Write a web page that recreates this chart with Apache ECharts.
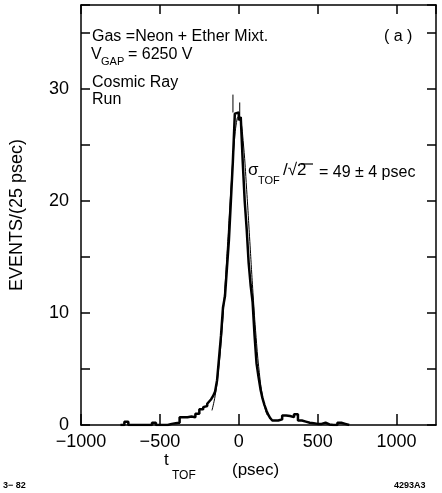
<!DOCTYPE html>
<html>
<head>
<meta charset="utf-8">
<script src="https://cdn.jsdelivr.net/npm/echarts@6/dist/echarts.min.js"></script>
<style>
html,body{margin:0;padding:0;background:#fff;}
#chart{width:442px;height:493px;}
</style>
</head>
<body>
<div id="chart"></div>
<script>
// ---- data ----
// histogram bin left edges (psec) and contents (events)
const binEdges = [-750,-725,-700,-675,-650,-625,-600,-575,-550,-525,-500,-475,-450,-425,-400,-375,-350,-325,-300,-275,-250,
  -225,-212.5,-200,-187.5,-175,-162.5,-150,-137.5,-125,-112.5,-100,-87.5,-75,-62.5,-50,-37.5,-25,-12.5,
  0,12.5,25,37.5,50,62.5,75,87.5,100,112.5,125,137.5,150,162.5,175,187.5,200,212.5,
  225,250,275,300,325,350,375,400,425,450,475,500,525,550,575,600,625,650,675,700];
const counts = [0,0.3,0,0,0,0,0,0,0.2,0,0,0,0.1,0.15,0.2,0.7,0.7,0.75,0.7,1.0,1.4,
  1.6,1.7,1.9,2.1,2.3,2.6,3.0,4.0,6.0,8.0,10.5,11.5,14.0,16.5,20.0,23.5,27.8,27.9,
  27.2,27.5,23.5,20.0,17.5,14.5,12.5,11.0,8.0,5.5,4.3,3.2,2.4,1.8,1.3,0.9,0.6,0.4,
  0.4,0.5,0.85,0.8,0.7,0.95,0.4,0.3,0.2,0.15,0.1,0.1,0.2,0.05,0,0,0.2,0.1,0];
const fitX = [-170,-150,-130,-110,-90,-70,-50,-30,-10,0,10,30,50,70,90,110,130,150,170,180];
const fitY = [1.3,2.6,4.7,7.8,11.8,16.4,21.0,25.0,27.4,27.5,27.4,25.0,21.0,16.4,11.8,7.8,4.7,2.6,1.3,0.9];
const spikes = [[-37,27.9,29.5],[6,27.5,28.8]]; // [x, low, high]
const xTickValues = [-1000,-500,0,500,1000];
const xTickLabels = ['\u22121000','\u2212500','0','500','1000'];
const yTickValues = [0,10,20,30];
const yTickLabels = ['0','10','20','30'];

// ---- build ----
const histData = binEdges.slice(0, counts.length).map((x,i)=>[x,counts[i]]);
histData.push([binEdges[binEdges.length-1], 0]);
const fitData = fitX.map((x,i)=>[x,fitY[i]]);

const FONT = 'Liberation Sans';
const chart = echarts.init(document.getElementById('chart'), null, {renderer:'canvas'});

const axLine = {show:true, onZero:false, lineStyle:{color:'#000', width:1.5}};
const series = [
  {type:'line', data:histData, step:'end', showSymbol:false, symbol:'none',
   lineStyle:{color:'#000', width:2.5}, xAxisIndex:0, yAxisIndex:0, z:3, animation:false},
  {type:'line', data:fitData, smooth:true, showSymbol:false, symbol:'none',
   lineStyle:{color:'#000', width:1}, xAxisIndex:0, yAxisIndex:0, z:4, animation:false}
];
spikes.forEach(s=>{
  series.push({type:'line', data:[[s[0],s[1]],[s[0],s[2]]], showSymbol:false, symbol:'none',
    lineStyle:{color:'#000', width:1}, xAxisIndex:0, yAxisIndex:0, animation:false});
});

const option = {
  backgroundColor:'#fff',
  animation:false,
  grid:{left:72, right:6, top:5, bottom:68, containLabel:false},
  xAxis:[
    {type:'value', min:-1000, max:1250, interval:500, position:'bottom',
     axisLine:axLine, splitLine:{show:false},
     axisTick:{show:true, inside:true, length:11, lineStyle:{color:'#000', width:1.5}},
     axisLabel:{color:'#000', fontFamily:FONT, fontSize:18, margin:8, showMaxLabel:false,
       formatter:v=>{const i=xTickValues.indexOf(v); return i>=0?xTickLabels[i]:'';}}},
    {type:'value', min:-1000, max:1250, interval:500, position:'top',
     axisLine:axLine, splitLine:{show:false},
     axisTick:{show:true, inside:true, length:9, lineStyle:{color:'#000', width:1.5}},
     axisLabel:{show:false}}
  ],
  yAxis:[
    {type:'value', min:0, max:37.5, interval:5, position:'left',
     axisLine:axLine, splitLine:{show:false},
     axisTick:{show:true, inside:true, length:9, lineStyle:{color:'#000', width:1.5}},
     axisLabel:{color:'#000', fontFamily:FONT, fontSize:18, margin:12,
       formatter:v=>{const i=yTickValues.indexOf(v); return i>=0?yTickLabels[i]:'';}},
     name:'EVENTS/(25 psec)', nameLocation:'middle', nameGap:55, nameRotate:90,
     nameTextStyle:{color:'#000', fontFamily:FONT, fontSize:18}},
    {type:'value', min:0, max:37.5, interval:5, position:'right',
     axisLine:axLine, splitLine:{show:false},
     axisTick:{show:true, inside:true, length:9, lineStyle:{color:'#000', width:1.5}},
     axisLabel:{show:false}}
  ],
  series:series,
  graphic:[
    {type:'text', left:92, top:29, style:{text:'Gas =Neon + Ether Mixt.', font:'16px '+FONT, fill:'#000'}},
    {type:'text', left:384, top:29, style:{text:'( a )', font:'16px '+FONT, fill:'#000'}},
    {type:'text', left:91, top:47, style:{text:'V', font:'16px '+FONT, fill:'#000'}},
    {type:'text', left:101, top:56, style:{text:'GAP', font:'11px '+FONT, fill:'#000'}},
    {type:'text', left:128, top:47, style:{text:'= 6250 V', font:'16px '+FONT, fill:'#000'}},
    {type:'text', left:92, top:75, style:{text:'Cosmic Ray', font:'16px '+FONT, fill:'#000'}},
    {type:'text', left:92, top:92, style:{text:'Run', font:'16px '+FONT, fill:'#000'}},
    {type:'text', left:248, top:162, style:{text:'\u03C3', font:'17px '+FONT, fill:'#000'}},
    {type:'text', left:258, top:175, style:{text:'TOF', font:'11px '+FONT, fill:'#000'}},
    {type:'text', left:283, top:162, style:{text:'/\u221A2', font:'17px '+FONT, fill:'#000'}},
    {type:'line', shape:{x1:301, y1:164, x2:313, y2:164}, style:{stroke:'#000', lineWidth:1.2}},
    {type:'text', left:319, top:165, style:{text:'= 49 \u00B1 4 psec', font:'16px '+FONT, fill:'#000'}},
    {type:'text', left:164, top:452, style:{text:'t', font:'17px '+FONT, fill:'#000'}},
    {type:'text', left:172, top:470, style:{text:'TOF', font:'12px '+FONT, fill:'#000'}},
    {type:'text', left:232, top:462, style:{text:'(psec)', font:'17px '+FONT, fill:'#000'}},
    {type:'text', left:3, top:481, style:{text:'3\u2212 82', font:'bold 9px '+FONT, fill:'#000'}},
    {type:'text', left:394, top:481, style:{text:'4293A3', font:'bold 9px '+FONT, fill:'#000'}}
  ]
};
chart.setOption(option);
</script>
</body>
</html>
